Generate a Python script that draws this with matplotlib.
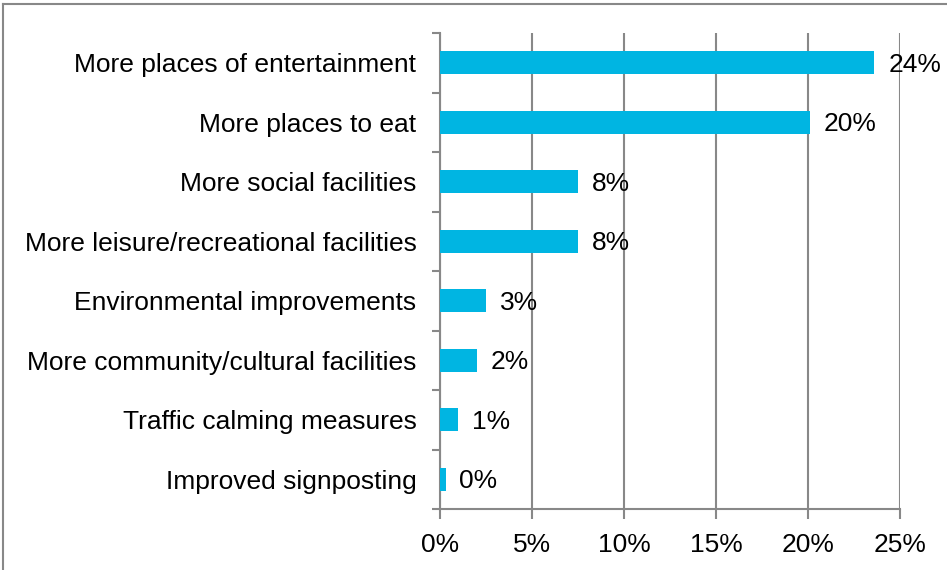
import math
import matplotlib
matplotlib.use("Agg")
import matplotlib.pyplot as plt
from matplotlib.lines import Line2D

plt.rcParams["font.family"] = ["Liberation Sans", "DejaVu Sans"]

categories = [
    "More places of entertainment",
    "More places to eat",
    "More social facilities",
    "More leisure/recreational facilities",
    "Environmental improvements",
    "More community/cultural facilities",
    "Traffic calming measures",
    "Improved signposting",
]
values = [23.6, 20.1, 7.5, 7.5, 2.5, 2.0, 1.0, 0.3]
x_ticks = [0, 5, 10, 15, 20, 25]

BAR = "#00B5E2"
GRID = "#888888"
FS = 19

W, H = 947, 570
fig = plt.figure(figsize=(W / 100, H / 100), dpi=100)
ax = fig.add_axes([440 / W, 1 - 509 / H, 460 / W, (509 - 33) / H])

y = list(range(len(categories)))
ax.barh(y, values, height=0.38, color=BAR, zorder=3)

ax.set_ylim(len(categories) - 0.5, -0.5)
ax.set_xlim(0, 25)
ax.set_xticks(x_ticks)
ax.set_xticklabels([f"{t}%" for t in x_ticks], fontsize=FS)
ax.set_yticks(y)
ax.set_yticklabels(categories, fontsize=FS)
ax.set_yticks([i + 0.5 for i in range(-1, len(categories))], minor=True)
ax.tick_params(axis="y", which="major", length=0, pad=17)
ax.tick_params(axis="y", which="minor", length=6, width=1.5, color=GRID)
ax.tick_params(axis="x", length=7, width=1.5, color=GRID, pad=10)

for s in ("top", "right"):
    ax.spines[s].set_visible(False)
for s in ("left", "bottom"):
    ax.spines[s].set_color(GRID)
    ax.spines[s].set_linewidth(1.5)

ax.xaxis.grid(True, color=GRID, linewidth=1.5, zorder=1)
ax.set_axisbelow(True)

for yi, v in zip(y, values):
    ax.annotate(f"{math.floor(v + 0.5)}%", (v, yi), xytext=(10, -1.5),
                textcoords="offset points", va="center", ha="left",
                fontsize=FS, zorder=4)

# outer frame (top and left edges)
fig.add_artist(Line2D([3 / W, 1], [1 - 4 / H, 1 - 4 / H], color=GRID, linewidth=1.5,
                      transform=fig.transFigure))
fig.add_artist(Line2D([3 / W, 3 / W], [0, 1 - 4 / H], color=GRID, linewidth=1.5,
                      transform=fig.transFigure))

fig.savefig("out.png", dpi=100)
